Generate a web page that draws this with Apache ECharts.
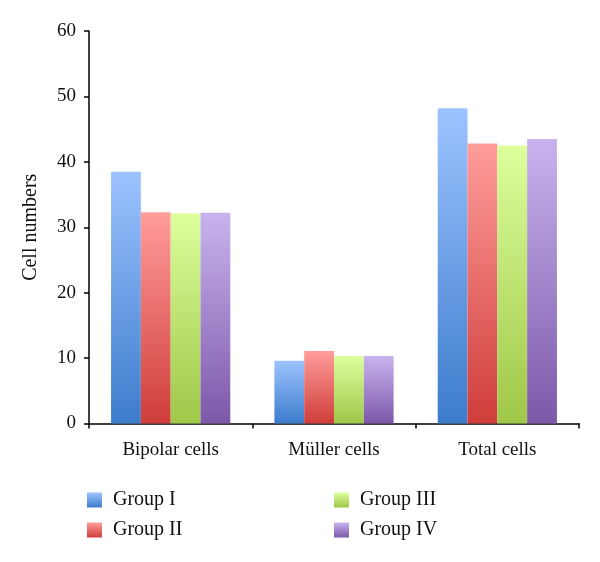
<!DOCTYPE html>
<html>
<head>
<meta charset="utf-8">
<script src="https://cdn.jsdelivr.net/npm/echarts@6/dist/echarts.min.js"></script>
<style>html,body{margin:0;padding:0;background:#fff}#c{width:600px;height:562px}</style>
</head>
<body>
<div id="c"></div>
<script>
const categories = ['Bipolar cells', 'Müller cells', 'Total cells'];
const seriesNames = ['Group I', 'Group II', 'Group III', 'Group IV'];
const groupI = [38.5, 9.6, 48.2];
const groupII = [32.3, 11.1, 42.8];
const groupIII = [32.1, 10.3, 42.5];
const groupIV = [32.2, 10.3, 43.5];
const yTicks = [0, 10, 20, 30, 40, 50, 60];

const values = [groupI, groupII, groupIII, groupIV];
const grads = [
  ['#9dc3ff', '#3c7ccc'],
  ['#ff9d9b', '#cf3d3a'],
  ['#dcff9c', '#9fc748'],
  ['#c8b3ee', '#7d58a9']
];
const font = '"Liberation Serif", "DejaVu Serif", serif';

function grad(c) {
  return new echarts.graphic.LinearGradient(0, 0, 0, 1, [
    { offset: 0, color: c[0] }, { offset: 1, color: c[1] }
  ]);
}

const legendText = { fontFamily: font, fontSize: 20, color: '#111', padding: [0, 0, 0, 6] };

const chart = echarts.init(document.getElementById('c'), null, { renderer: 'canvas' });
chart.setOption({
  animation: false,
  backgroundColor: '#fff',
  grid: { left: 89, right: 21, top: 31, bottom: 138.5, containLabel: false },
  legend: [
    {
      data: seriesNames.slice(0, 2), orient: 'vertical', left: 87, top: 490, padding: 0,
      itemWidth: 15, itemHeight: 15, itemGap: 10, icon: 'rect', textStyle: legendText
    },
    {
      data: seriesNames.slice(2, 4), orient: 'vertical', left: 334, top: 490, padding: 0,
      itemWidth: 15, itemHeight: 15, itemGap: 10, icon: 'rect', textStyle: legendText
    }
  ],
  xAxis: {
    type: 'category', data: categories,
    axisLine: { lineStyle: { color: '#000', width: 1.5 } },
    axisTick: { show: true, length: 5, lineStyle: { color: '#000', width: 1.5 } },
    axisLabel: { fontFamily: font, fontSize: 19, color: '#111', margin: 17 },
    splitLine: { show: false }
  },
  yAxis: {
    type: 'value', min: yTicks[0], max: yTicks[yTicks.length - 1], interval: 10,
    name: 'Cell numbers', nameLocation: 'middle', nameGap: 48,
    nameTextStyle: { fontFamily: font, fontSize: 20, color: '#111' },
    axisLine: { show: true, lineStyle: { color: '#000', width: 1.5 } },
    axisTick: { show: true, length: 5, lineStyle: { color: '#000', width: 1.5 } },
    axisLabel: { fontFamily: font, fontSize: 19, color: '#111', margin: 13 },
    splitLine: { show: false }
  },
  series: seriesNames.map((n, i) => ({
    name: n, type: 'bar', data: values[i],
    barGap: '0%', barCategoryGap: '27%',
    itemStyle: { color: grad(grads[i]) }
  }))
});
</script>
</body>
</html>
